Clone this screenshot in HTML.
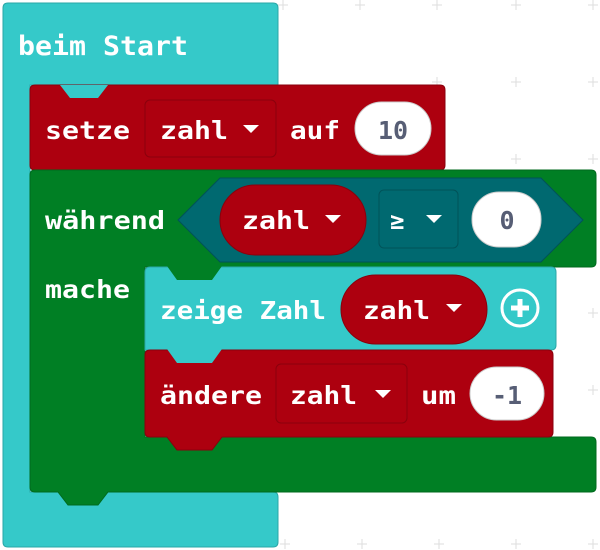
<!DOCTYPE html>
<html><head><style>
html,body{margin:0;padding:0;background:#fff;}
svg{display:block;}
text{font-family:"DejaVu Sans Mono","Liberation Mono",monospace;font-weight:bold;font-size:25px;fill:#fff;}
.num{fill:#575e75;}
</style></head><body>
<svg width="600" height="550" viewBox="0 0 600 550" xmlns="http://www.w3.org/2000/svg">
<g stroke="#ddd" stroke-width="1">
<path d="M278 5h10M283 0v10M355 5h10M360 0v10M432 5h10M437 0v10M511 5h10M516 0v10M588 5h10M593 0v10"/>
<path d="M432 82h10M437 77v10M511 82h10M516 77v10M588 82h10M593 77v10"/>
<path d="M511 159h10M516 154v10M588 159h10M593 154v10"/>
<path d="M588 313h10M593 308v10M588 390h10M593 385v10"/>
<path d="M280 544h10M285 539v10M357 544h10M362 539v10M434 544h10M439 539v10M511 544h10M516 539v10M588 544h10M593 539v10"/>
</g>
<!-- outer cyan hat -->
<path d="M3 8 Q3 3 8 3 H273 Q278 3 278 8 V85 H30 V492 H273 Q278 492 278 497 V542 Q278 547 273 547 H8 Q3 547 3 542 Z" fill="#35c9c9" stroke="#2aa7a7" stroke-width="1"/>
<text x="18" y="55" textLength="170" lengthAdjust="spacingAndGlyphs" style="font-size:27px">beim Start</text>

<!-- setze block -->
<path d="M30 90 Q30 85 35 85 H440 Q445 85 445 90 V165 Q445 170 440 170 H108 L98 183 H70 L60 170 H35 Q30 170 30 165 Z" fill="#ad000f" stroke="#8a000c" stroke-width="1"/>
<path d="M60 85 L70 98 H98 L108 85 Z" fill="#35c9c9"/>
<text x="45" y="139" textLength="85" lengthAdjust="spacingAndGlyphs">setze</text>
<rect x="145" y="100" width="131" height="57" rx="5" fill="#ad000f" stroke="#8a000c"/>
<text x="160" y="139" textLength="68" lengthAdjust="spacingAndGlyphs">zahl</text>
<path d="M243 125h16l-8 8z" fill="#fff"/>
<text x="290" y="139" textLength="50" lengthAdjust="spacingAndGlyphs">auf</text>
<rect x="355" y="102" width="76" height="53" rx="26.5" fill="#fff" stroke="#ccc"/>
<text x="393" y="139" text-anchor="middle" class="num">10</text>

<!-- while block -->
<path d="M30 175 Q30 170 35 170 H591 Q596 170 596 175 V262 Q596 267 591 267 H145 V437 H591 Q596 437 596 442 V487 Q596 492 591 492 H108 L98 505 H68 L58 492 H35 Q30 492 30 487 Z" fill="#007f24" stroke="#006a1e" stroke-width="1"/>
<text x="45" y="229" textLength="120" lengthAdjust="spacingAndGlyphs">während</text>
<text x="45" y="298" textLength="85" lengthAdjust="spacingAndGlyphs">mache</text>
<path d="M178 220 L220 178 H541 L583 220 L541 262 H220 Z" fill="#006970" stroke="#005258"/>
<rect x="220" y="185" width="146" height="70" rx="35" fill="#ad000f" stroke="#8a000c"/>
<text x="242" y="229" textLength="68" lengthAdjust="spacingAndGlyphs">zahl</text>
<path d="M325 215h16l-8 8z" fill="#fff"/>
<rect x="379" y="190" width="79" height="58" rx="5" fill="#006970" stroke="#005258"/>
<text x="390" y="229" style="font-size:24px">≥</text>
<path d="M426 215h16l-8 8z" fill="#fff"/>
<rect x="472" y="192" width="69" height="55" rx="27" fill="#fff" stroke="#ccc"/>
<text x="507" y="229" text-anchor="middle" class="num">0</text>

<!-- zeige Zahl -->
<path d="M145 272 Q145 267 150 267 H551 Q556 267 556 272 V345 Q556 350 551 350 H145 Z" fill="#35c9c9" stroke="#2aa7a7"/>
<path d="M167 266 L177 280 H212 L222 266 Z" fill="#007f24"/>
<text x="160" y="319" textLength="166" lengthAdjust="spacingAndGlyphs">zeige Zahl</text>
<rect x="341" y="275" width="146" height="69" rx="34.5" fill="#ad000f" stroke="#8a000c"/>
<text x="363" y="319" textLength="67" lengthAdjust="spacingAndGlyphs">zahl</text>
<path d="M446 304h16l-8 8z" fill="#fff"/>
<circle cx="520" cy="308" r="18" fill="none" stroke="#fff" stroke-width="3"/>
<path d="M520 299v18M511 308h18" stroke="#fff" stroke-width="5"/>

<!-- ändere -->
<path d="M145 355 Q145 350 150 350 H548 Q553 350 553 355 V432 Q553 437 548 437 H222 L212 450 H177 L167 437 H150 Q145 437 145 432 Z" fill="#ad000f" stroke="#8a000c"/>
<path d="M167 349 L177 363 H212 L222 349 Z" fill="#35c9c9"/>
<text x="160" y="404" textLength="102" lengthAdjust="spacingAndGlyphs">ändere</text>
<rect x="276" y="364" width="131" height="59" rx="5" fill="#ad000f" stroke="#8a000c"/>
<text x="290" y="404" textLength="67" lengthAdjust="spacingAndGlyphs">zahl</text>
<path d="M375 390h16l-8 8z" fill="#fff"/>
<text x="421" y="404" textLength="35" lengthAdjust="spacingAndGlyphs">um</text>
<rect x="470" y="367" width="74" height="53" rx="26.5" fill="#fff" stroke="#ccc"/>
<text x="507" y="404" text-anchor="middle" class="num">-1</text>
</svg>
</body></html>
